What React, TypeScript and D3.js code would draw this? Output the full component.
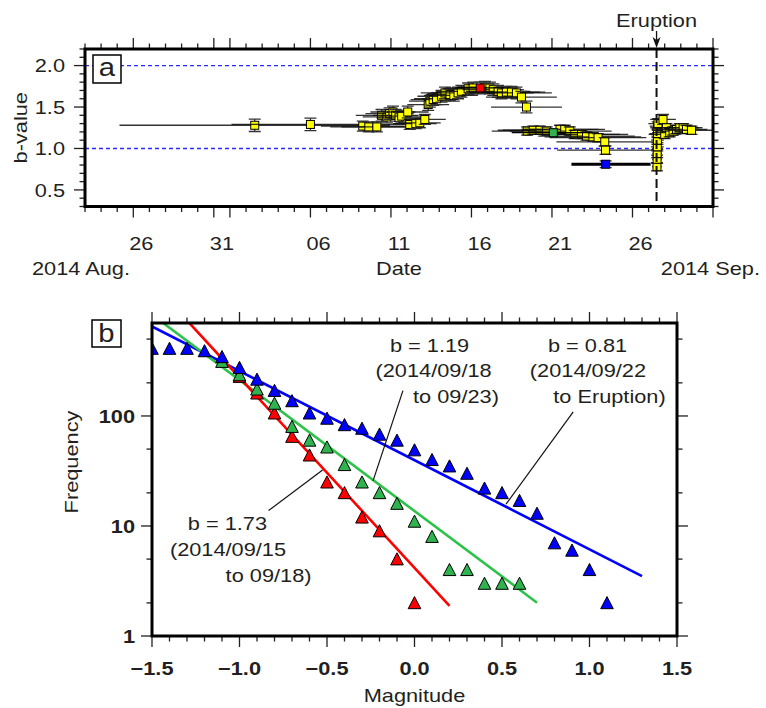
import React from 'react';
import * as d3 from 'd3';

const W = 766;
const H = 708;

// ---------------- Panel a data ----------------
const parseT = d3.timeParse('%Y/%m/%d %H:%M');
const P = (s: string) => parseT('2014/' + s) as Date;

const aDomain = ['08/23 00:00', '10/01 00:00'];
const eruptionTime = '09/27 11:52';
const dayLabelDates = ['08/26', '08/31', '09/06', '09/11', '09/16', '09/21', '09/26'];
const majorDaysOfMonth = [1, 6, 11, 16, 21, 26, 31];
const bRefLines = [1.0, 2.0];
const bTickMajor = [0.5, 1.0, 1.5, 2.0];

const bTimes = [
  '09/02 13:00', '09/06 00:00', '09/09 06:00', '09/09 15:00', '09/10 03:00', '09/10 10:00',
  '09/10 18:00', '09/10 22:00', '09/11 03:00', '09/11 07:00', '09/11 12:00', '09/11 16:00',
  '09/12 01:00', '09/12 04:00', '09/12 13:00', '09/12 19:00', '09/13 02:30', '09/13 07:30',
  '09/13 10:00', '09/13 15:00', '09/13 20:00', '09/14 03:30', '09/14 08:30', '09/14 16:00',
  '09/14 21:40', '09/15 04:00', '09/15 09:00', '09/15 19:00', '09/16 02:30', '09/16 20:00',
  '09/17 03:30', '09/17 08:30', '09/17 15:40', '09/17 20:40', '09/18 04:00', '09/18 11:40',
  '09/18 19:00', '09/19 02:30', '09/19 10:00', '09/19 11:00', '09/19 20:00', '09/20 06:00',
  '09/20 16:00', '09/21 12:00', '09/21 19:00', '09/22 02:30', '09/22 10:00', '09/22 20:00',
  '09/23 03:30', '09/23 13:00', '09/23 20:40', '09/24 06:40', '09/24 07:40', '09/27 12:30',
  '09/27 12:40', '09/27 12:50', '09/27 13:00', '09/27 13:10', '09/27 13:20', '09/27 13:40',
  '09/27 14:00', '09/27 21:30', '09/28 00:00', '09/28 02:30', '09/28 07:30', '09/28 12:30',
  '09/28 17:30', '09/28 22:30', '09/29 03:30', '09/29 08:30', '09/29 16:00',
];
const bValues = [
  1.28, 1.29, 1.27, 1.26, 1.26, 1.40,
  1.38, 1.42, 1.44, 1.40, 1.37, 1.39,
  1.44, 1.29, 1.30, 1.31, 1.35, 1.53,
  1.57, 1.59, 1.60, 1.63, 1.67, 1.65,
  1.64, 1.67, 1.69, 1.72, 1.73, 1.74,
  1.73, 1.71, 1.69, 1.67, 1.68, 1.68,
  1.67, 1.62, 1.50, 1.21, 1.22, 1.22,
  1.21, 1.23, 1.23, 1.21, 1.17, 1.17,
  1.15, 1.14, 1.13, 1.08, 0.98, 0.78,
  0.87, 0.94, 1.02, 1.10, 1.18, 1.27,
  1.30, 1.35, 1.17, 1.25, 1.19, 1.21,
  1.23, 1.25, 1.25, 1.23, 1.22,
];
const bHalfDays = [
  8.4, 4.9, 2.6, 2.4, 2.2, 1.6,
  1.5, 1.5, 1.4, 1.4, 1.4, 1.3,
  1.3, 1.3, 1.3, 1.3, 1.3, 1.3,
  1.3, 1.4, 1.4, 1.5, 1.5, 1.5,
  1.5, 1.6, 1.6, 1.6, 1.7, 1.7,
  1.8, 1.9, 2.0, 2.0, 2.1, 2.1,
  2.2, 2.2, 2.2, 2.2, 2.2, 2.3,
  2.3, 2.4, 2.5, 2.6, 2.8, 2.9,
  3.0, 3.0, 3.0, 3.0, 3.0, 0.3,
  0.3, 0.3, 0.4, 0.4, 0.5, 0.5,
  0.6, 0.8, 1.0, 1.0, 1.1, 1.1,
  1.2, 1.2, 1.2, 1.3, 1.5,
];
const bErrors = [
  0.075, 0.075, 0.06, 0.06, 0.06, 0.07,
  0.07, 0.07, 0.07, 0.07, 0.07, 0.07,
  0.07, 0.06, 0.06, 0.06, 0.06, 0.07,
  0.07, 0.07, 0.07, 0.07, 0.07, 0.07,
  0.07, 0.07, 0.07, 0.07, 0.07, 0.07,
  0.07, 0.07, 0.07, 0.07, 0.07, 0.07,
  0.07, 0.07, 0.07, 0.05, 0.05, 0.05,
  0.05, 0.05, 0.05, 0.05, 0.05, 0.05,
  0.05, 0.05, 0.05, 0.05, 0.05, 0.05,
  0.05, 0.05, 0.05, 0.05, 0.05, 0.05,
  0.06, 0.06, 0.05, 0.05, 0.05, 0.05,
  0.05, 0.05, 0.05, 0.05, 0.05,
];

// highlighted windows (used in panel b)
const redWindow = { t: '09/16 13:00', b: 1.73, start: '09/15 00:00', end: '09/18 00:00', err: 0.07 };
const greenWindow = { t: '09/21 02:00', b: 1.19, start: '09/18 12:00', end: '09/23 12:00', err: 0.04 };
const blueWindow = { t: '09/24 08:00', b: 0.81, start: '09/22 05:00', end: '09/27 03:00', err: 0.04 };

// ---------------- Panel b data ----------------
const blueMags = [-1.5, -1.4, -1.3, -1.2, -1.1, -1.0, -0.9, -0.8, -0.7, -0.6, -0.5, -0.4, -0.3, -0.2,
  -0.1, 0.0, 0.1, 0.2, 0.3, 0.4, 0.5, 0.6, 0.7, 0.8, 0.9, 1.0, 1.1];
const blueFreq = [410, 410, 410, 390, 345, 275, 215, 170, 137, 106, 95, 83, 77, 68,
  60, 49, 40, 35, 30, 22, 20, 17, 13, 7, 6, 4, 2];
const greenMags = [-1.1, -1.0, -0.9, -0.8, -0.7, -0.6, -0.5, -0.4, -0.3, -0.2, -0.1, 0.0, 0.1, 0.2,
  0.3, 0.4, 0.5, 0.6];
const greenFreq = [312, 236, 175, 130, 80, 60, 52, 36, 25, 20, 16, 11, 8, 4, 4, 3, 3, 3];
const redMags = [-1.0, -0.9, -0.8, -0.7, -0.6, -0.5, -0.4, -0.3, -0.2, -0.1, 0.0];
const redFreq = [228, 161, 106, 65, 44, 25, 20, 12, 9, 5, 2];

// Gutenberg-Richter fits: log10 N = a - b M
const fits = [
  { name: 'blue', a: 1.598, b: 0.81, mMax: 1.3 },
  { name: 'green', a: 1.136, b: 1.19, mMax: 0.7 },
  { name: 'red', a: 0.619, b: 1.73, mMax: 0.2 },
];
const magTicks = [-1.5, -1.0, -0.5, 0.0, 0.5, 1.0, 1.5];
const freqMajor = [1, 10, 100];
const freqMinor = [2, 5, 20, 50, 200, 500];

const annotations = [
  {
    lines: [
      { text: 'b = 1.73', m: -1.069, n: 9.2 },
      { text: '(2014/09/15', m: -1.066, n: 5.34 },
      { text: 'to 09/18)', m: -0.834, n: 3.1 },
    ],
    leader: [[-0.834, 13.8], [-0.525, 32.3]],
  },
  {
    lines: [
      { text: 'b = 1.19', m: 0.086, n: 384 },
      { text: '(2014/09/18', m: 0.109, n: 226 },
      { text: 'to 09/23)', m: 0.237, n: 131 },
    ],
    leader: [[-0.066, 170], [-0.237, 25.7]],
  },
  {
    lines: [
      { text: 'b = 0.81', m: 0.989, n: 384 },
      { text: '(2014/09/22', m: 0.991, n: 226 },
      { text: 'to Eruption)', m: 1.114, n: 131 },
    ],
    leader: [[0.907, 109], [0.523, 15.8]],
  },
];

// ---------------- styles ----------------
const COLORS: Record<string, string> = {
  blue: '#0000ff', green: '#2fb34f', red: '#ff0000', yellow: '#ffff00',
  greenLine: '#2ec24a', ink: '#231f20', refLine: '#2a2aff',
};
const FONT = "'Liberation Sans', Arial, Helvetica, sans-serif";
const FS = 18.6;
const SX = 1.17;

const T = ({ x, y, children, anchor = 'middle', size = FS, weight = 'normal', rot = 0 }: any) => (
  <text
    transform={`translate(${x},${y})${rot ? ` rotate(${rot})` : ''} scale(${SX},1)`}
    textAnchor={anchor}
    fontSize={size}
    fontWeight={weight}
    fontFamily={FONT}
    fill={COLORS.ink}
  >
    {children}
  </text>
);

export default function App() {
  // panel a geometry
  const A = { l: 85, r: 713, t: 49, b: 206.5 };
  const xA = d3.scaleTime().domain([P(aDomain[0]), P(aDomain[1])]).range([A.l, A.r]);
  const yA = d3.scaleLinear().domain([0.3, 2.2]).range([A.b, A.t]);
  const dayPx = xA(P('09/02 00:00')) - xA(P('09/01 00:00'));

  // panel b geometry
  const B = { l: 152, r: 677, t: 323, b: 636 };
  const xB = d3.scaleLinear().domain([-1.5, 1.5]).range([B.l, B.r]);
  const yB = d3.scaleLog().domain([1, 700]).range([B.b, B.t]);

  const days = d3.timeDay.range(P(aDomain[0]), d3.timeDay.offset(P(aDomain[1]), 1));
  const bMinor = d3.range(3, 23).map((i) => i / 10);
  const magMinor = d3.range(-15, 16).map((i) => i / 10);

  const points = bTimes.map((t, i) => ({
    t: P(t), b: bValues[i], half: bHalfDays[i], err: bErrors[i],
  }));

  const square = (cx: number, cy: number, fill: string, key: string) => (
    <rect key={key} x={cx - 4} y={cy - 4} width={8} height={8} fill={fill} stroke="#000" strokeWidth={1} />
  );
  const errBar = (cx: number, b: number, err: number, key: string) => {
    const y1 = yA(b + err), y2 = yA(b - err);
    return (
      <g key={key} stroke="#333" strokeWidth={1.3}>
        <line x1={cx} x2={cx} y1={y1} y2={y2} />
        <line x1={cx - 6} x2={cx + 6} y1={y1} y2={y1} />
        <line x1={cx - 6} x2={cx + 6} y1={y2} y2={y2} />
      </g>
    );
  };

  const tri = (cx: number, cy: number) =>
    `M${cx},${cy - 6.3}L${cx + 6.3},${cy + 5.8}L${cx - 6.3},${cy + 5.8}Z`;

  const erX = xA(P(eruptionTime));

  return (
    <svg width={W} height={H} style={{ position: 'absolute', left: 0, top: 0, background: '#fff' }}>
      <defs>
        <clipPath id="clipA"><rect x={A.l} y={A.t} width={A.r - A.l} height={A.b - A.t} /></clipPath>
        <clipPath id="clipB"><rect x={B.l} y={B.t} width={B.r - B.l} height={B.b - B.t} /></clipPath>
      </defs>

      {/* ================= Panel a ================= */}
      <g>
        {bRefLines.map((v) => (
          <line key={v} x1={A.l} x2={A.r} y1={yA(v)} y2={yA(v)} stroke={COLORS.refLine} strokeWidth={1.4} strokeDasharray="4,3" />
        ))}
        <g clipPath="url(#clipA)">
          {points.map((p, i) => {
            const cx = xA(p.t);
            const cy = yA(p.b);
            return (
              <g key={i}>
                <line x1={cx - p.half * dayPx} x2={cx + p.half * dayPx} y1={cy} y2={cy} stroke="#111" strokeWidth={1.3} strokeOpacity={0.85} />
                {errBar(cx, p.b, p.err, 'e' + i)}
                {square(cx, cy, COLORS.yellow, 's' + i)}
              </g>
            );
          })}
          {[
            { w: redWindow, c: COLORS.red, sw: 1.3 },
            { w: greenWindow, c: COLORS.green, sw: 1.3 },
            { w: blueWindow, c: COLORS.blue, sw: 3 },
          ].map(({ w, c, sw }, i) => {
            const cx = xA(P(w.t));
            const cy = yA(w.b);
            return (
              <g key={'h' + i}>
                <line x1={xA(P(w.start))} x2={xA(P(w.end))} y1={cy} y2={cy} stroke="#000" strokeWidth={sw} />
                {errBar(cx, w.b, w.err, 'he' + i)}
                {square(cx, cy, c, 'hs' + i)}
              </g>
            );
          })}
        </g>
        {/* eruption line */}
        <line x1={erX} x2={erX} y1={A.t} y2={A.b} stroke="#111" strokeWidth={2} strokeDasharray="9,4" />
        <line x1={erX} x2={erX} y1={31} y2={44} stroke="#111" strokeWidth={1.3} />
        <path d={`M${erX - 4},${37}L${erX},${48}L${erX + 4},${37}L${erX},${40}Z`} fill="#111" />
        <T x={erX} y={27}>Eruption</T>

        {/* y ticks left and right */}
        {bMinor.map((v) => {
          const major = bTickMajor.some((m) => Math.abs(m - v) < 1e-6);
          const len = major ? 11 : 5.5;
          return (
            <g key={'yt' + v} stroke={COLORS.ink} strokeWidth={1.3}>
              <line x1={A.l - len} x2={A.l} y1={yA(v)} y2={yA(v)} />
              <line x1={A.r} x2={A.r + len} y1={yA(v)} y2={yA(v)} />
            </g>
          );
        })}
        {bTickMajor.map((v) => (
          <T key={'yl' + v} x={65} y={yA(v) + 6.6} anchor="end">{v.toFixed(1)}</T>
        ))}
        {/* x ticks top and bottom */}
        {days.map((d) => {
          const major = majorDaysOfMonth.includes(d.getDate());
          const len = major ? 11 : 5.5;
          const x = xA(d);
          return (
            <g key={'xt' + +d} stroke={COLORS.ink} strokeWidth={1.3}>
              <line x1={x} x2={x} y1={A.b} y2={A.b + len} />
              <line x1={x} x2={x} y1={A.t - len} y2={A.t} />
            </g>
          );
        })}
        {dayLabelDates.map((s) => {
          const d = P(s + ' 12:00');
          return <T key={s} x={xA(d)} y={250}>{d3.timeFormat('%d')(d)}</T>;
        })}
        <T x={32} y={275} anchor="start">2014 Aug.</T>
        <T x={(A.l + A.r) / 2} y={275}>Date</T>
        <T x={760} y={275} anchor="end">2014 Sep.</T>
        <T x={27} y={(A.t + A.b) / 2} rot={-90}>b-value</T>

        <rect x={A.l} y={A.t} width={A.r - A.l} height={A.b - A.t} fill="none" stroke="#000" strokeWidth={3} />
        <rect x={93} y={55} width={28} height={28} fill="#fff" stroke="#000" strokeWidth={1.5} />
        <T x={107} y={76} size={25}>a</T>
      </g>

      {/* ================= Panel b ================= */}
      <g>
        <g clipPath="url(#clipB)">
          {fits.map((f) => {
            const ms = [-1.5, f.mMax];
            const line = d3.line<number>().x((m) => xB(m)).y((m) => yB(Math.pow(10, f.a - f.b * m)));
            const col = f.name === 'green' ? COLORS.greenLine : COLORS[f.name];
            return <path key={f.name} d={line(ms) || ''} stroke={col} strokeWidth={2.6} fill="none" />;
          })}
          {redMags.map((m, i) => (
            <path key={'r' + i} d={tri(xB(m), yB(redFreq[i]))} fill={COLORS.red} stroke="#000" strokeWidth={1} />
          ))}
          {greenMags.map((m, i) => (
            <path key={'g' + i} d={tri(xB(m), yB(greenFreq[i]))} fill={COLORS.green} stroke="#000" strokeWidth={1} />
          ))}
          {blueMags.map((m, i) => (
            <path key={'b' + i} d={tri(xB(m), yB(blueFreq[i]))} fill={COLORS.blue} stroke="#000" strokeWidth={1} />
          ))}
        </g>

        {annotations.map((a, i) => (
          <g key={'an' + i}>
            <line x1={xB(a.leader[0][0])} y1={yB(a.leader[0][1])} x2={xB(a.leader[1][0])} y2={yB(a.leader[1][1])} stroke="#111" strokeWidth={1.2} />
            {a.lines.map((l, j) => (
              <T key={j} x={xB(l.m)} y={yB(l.n)}>{l.text}</T>
            ))}
          </g>
        ))}

        {/* ticks */}
        {magMinor.map((m) => {
          const major = magTicks.some((v) => Math.abs(v - m) < 1e-6);
          const len = major ? 11 : 5.5;
          const x = xB(m);
          return (
            <g key={'mt' + m} stroke={COLORS.ink} strokeWidth={1.3}>
              <line x1={x} x2={x} y1={B.b} y2={B.b + len} />
              <line x1={x} x2={x} y1={B.t - len} y2={B.t} />
            </g>
          );
        })}
        {[...freqMajor.map((v) => [v, 11]), ...freqMinor.map((v) => [v, 5.5])].map(([v, len]) => (
          <g key={'ft' + v} stroke={COLORS.ink} strokeWidth={1.3}>
            <line x1={B.l - len} x2={B.l} y1={yB(v)} y2={yB(v)} />
            <line x1={B.r} x2={B.r + len} y1={yB(v)} y2={yB(v)} />
          </g>
        ))}
        {magTicks.map((m) => (
          <T key={'ml' + m} x={xB(m)} y={675} weight="bold">{m < 0 ? '\u2212' + Math.abs(m).toFixed(1) : m.toFixed(1)}</T>
        ))}
        {freqMajor.map((v) => (
          <T key={'fl' + v} x={135} y={yB(v) + 6.8} anchor="end" weight="bold">{String(v)}</T>
        ))}
        <T x={(B.l + B.r) / 2} y={702}>Magnitude</T>
        <T x={78} y={462} rot={-90}>Frequency</T>

        <rect x={B.l} y={B.t} width={B.r - B.l} height={B.b - B.t} fill="none" stroke="#000" strokeWidth={3} />
        <rect x={92} y={320} width={29} height={27} fill="#fff" stroke="#000" strokeWidth={1.5} />
        <T x={106.5} y={342} size={25}>b</T>
      </g>
    </svg>
  );
}
